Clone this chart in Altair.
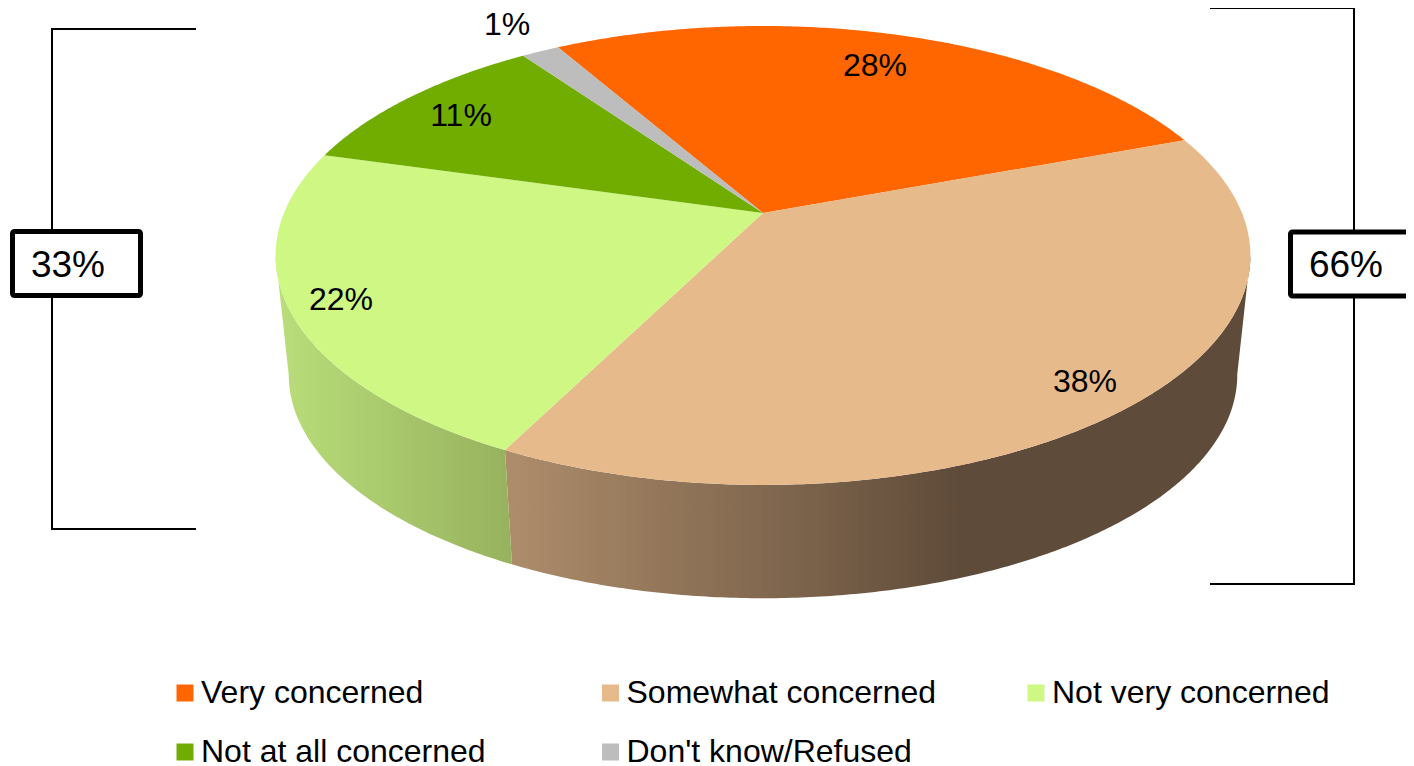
import math
import altair as alt
import pandas as pd

# ---- values ----
categories = ["Very concerned", "Somewhat concerned", "Not very concerned",
              "Not at all concerned", "Don't know/Refused"]
shares = [27.6, 38.1, 22.0, 10.8, 1.5]
share_labels = ["28%", "38%", "22%", "11%", "1%"]
colors = ["#FF6600", "#E7BA8C", "#CFF783", "#70AD00", "#BDBDBD"]
bracket_labels = ["33%", "66%"]
legend_order = ["Very concerned", "Not at all concerned", "Somewhat concerned",
                "Don't know/Refused", "Not very concerned"]

# ---- layout (chart pixels = picture pixels - 8) ----
FONT = "Liberation Sans"
OX, OY = 8, 8
APEX_X, APEX_Y = 763, 213             # where the slices meet (picture pixels)
A, B, K = 479.0, 182.2, -0.185        # perspective of the disc
START_DEG = -29.8
WALL_SCALE = 0.973
ELL_CY, WALL_CY = 255.5, 375
label_xy = [(875, 66), (1085, 382), (341, 300), (461, 116), (507, 25)]


def top_point(theta_deg):
    t = math.radians(theta_deg)
    u, v = math.sin(t), -math.cos(t)
    d = 1 + K * v
    return APEX_X + A * u / d, (APEX_Y + B * v) / d


def wall_point(theta_deg):
    x, y = top_point(theta_deg)
    return APEX_X + WALL_SCALE * (x - APEX_X), WALL_CY + WALL_SCALE * (y - ELL_CY)


def feature(name, ring):
    ring = [[x - OX, y - OY] for x, y in ring]
    ring.append(ring[0])
    return {"type": "Feature", "properties": {"name": name},
            "geometry": {"type": "Polygon", "coordinates": [ring]}}


edges = [START_DEG]
for s in shares:
    edges.append(edges[-1] + s * 3.6)

top_features = []
for name, a0, a1 in zip(categories, edges[:-1], edges[1:]):
    n = max(4, int((a1 - a0) * 2))
    arc = [top_point(a0 + (a1 - a0) * i / n) for i in range(n + 1)]
    top_features.append(feature(name, [(APEX_X, APEX_Y)] + arc))


def wall(a0, a1, stops):
    n = int((a1 - a0) * 2)
    angles = [a0 + (a1 - a0) * i / n for i in range(n + 1)]
    ring = [top_point(a) for a in angles] + [wall_point(a) for a in reversed(angles)]
    grad = alt.Gradient(gradient="linear", x1=0, x2=1, y1=0, y2=0,
                        stops=[alt.GradientStop(offset=o, color=c) for o, c in stops])
    return (alt.Chart(alt.Data(values=[feature("wall", ring)]))
            .mark_geoshape(fill=grad, stroke=None, strokeWidth=0)
            .project(type="identity", scale=1, translate=[0, 0]))


scan = [edges[1] + i * 0.25 for i in range(int((edges[3] - edges[1]) * 4))]
right_most = max(scan, key=lambda a: top_point(a)[0])
left_most = min(scan, key=lambda a: top_point(a)[0])

beige_wall = wall(right_most, edges[2], [(0, "#AE8D6B"), (0.34, "#836950"),
                                         (0.61, "#5F4B39"), (1, "#5F4B39")])
green_wall = wall(edges[2], left_most, [(0, "#B9DE7A"), (1, "#97B25E")])

tops = (alt.Chart(alt.Data(values=top_features))
        .mark_geoshape(strokeWidth=0)
        .encode(color=alt.Color(
            "properties.name:N",
            scale=alt.Scale(domain=legend_order,
                            range=[colors[categories.index(c)] for c in legend_order]),
            legend=alt.Legend(
                title=None, orient="none", legendX=161, legendY=669,
                columns=3, gridAlign="all", columnPadding=83.5, rowPadding=27,
                symbolType="square", symbolSize=289, symbolStrokeWidth=0,
                labelFont=FONT, labelFontSize=32, labelColor="#000000",
                labelOffset=0, labelLimit=500, padding=0, symbolOpacity=1)))
        .project(type="identity", scale=1, translate=[0, 0]))


def rule(x, y, x2=None, y2=None):
    enc = dict(x=alt.value(x - OX), y=alt.value(y - OY))
    if x2 is not None:
        enc["x2"] = alt.value(x2 - OX)
    if y2 is not None:
        enc["y2"] = alt.value(y2 - OY)
    return alt.Chart(pd.DataFrame({"k": [0]})).mark_rule(color="#000000", strokeWidth=2).encode(**enc)


brackets = [
    rule(52, 29, x2=196), rule(52, 529, x2=196), rule(52, 28, y2=530),
    rule(1210, 8, x2=1354), rule(1210, 584, x2=1354), rule(1354, 7, y2=585),
]


def box(x, x2, y, y2):
    return (alt.Chart(pd.DataFrame({"k": [0]}))
            .mark_rect(fill="#FFFFFF", stroke="#000000", strokeWidth=5, cornerRadius=2)
            .encode(x=alt.value(x - OX), x2=alt.value(x2 - OX),
                    y=alt.value(y - OY), y2=alt.value(y2 - OY)))


boxes = [box(12.5, 140.5, 231.5, 295.5), box(1290.5, 1440, 232, 296)]


def label(text, x, y, size):
    return (alt.Chart(pd.DataFrame({"t": [text]}))
            .mark_text(font=FONT, fontSize=size, color="#000000", align="center", baseline="middle")
            .encode(text="t:N", x=alt.value(x - OX), y=alt.value(y - OY)))


texts = [label(t, x, y, 32) for t, (x, y) in zip(share_labels, label_xy)]
texts += [label(bracket_labels[0], 68, 266, 37), label(bracket_labels[1], 1346, 266, 37)]

chart = alt.layer(beige_wall, green_wall, tops, *brackets, *boxes, *texts).properties(
    width=1398, height=758, padding=0,
    autosize=alt.AutoSizeParams(type="none"),
    background="#FFFFFF",
).configure_view(stroke=None)

chart.save("out.html", embed_options={"renderer": "svg", "actions": False})
